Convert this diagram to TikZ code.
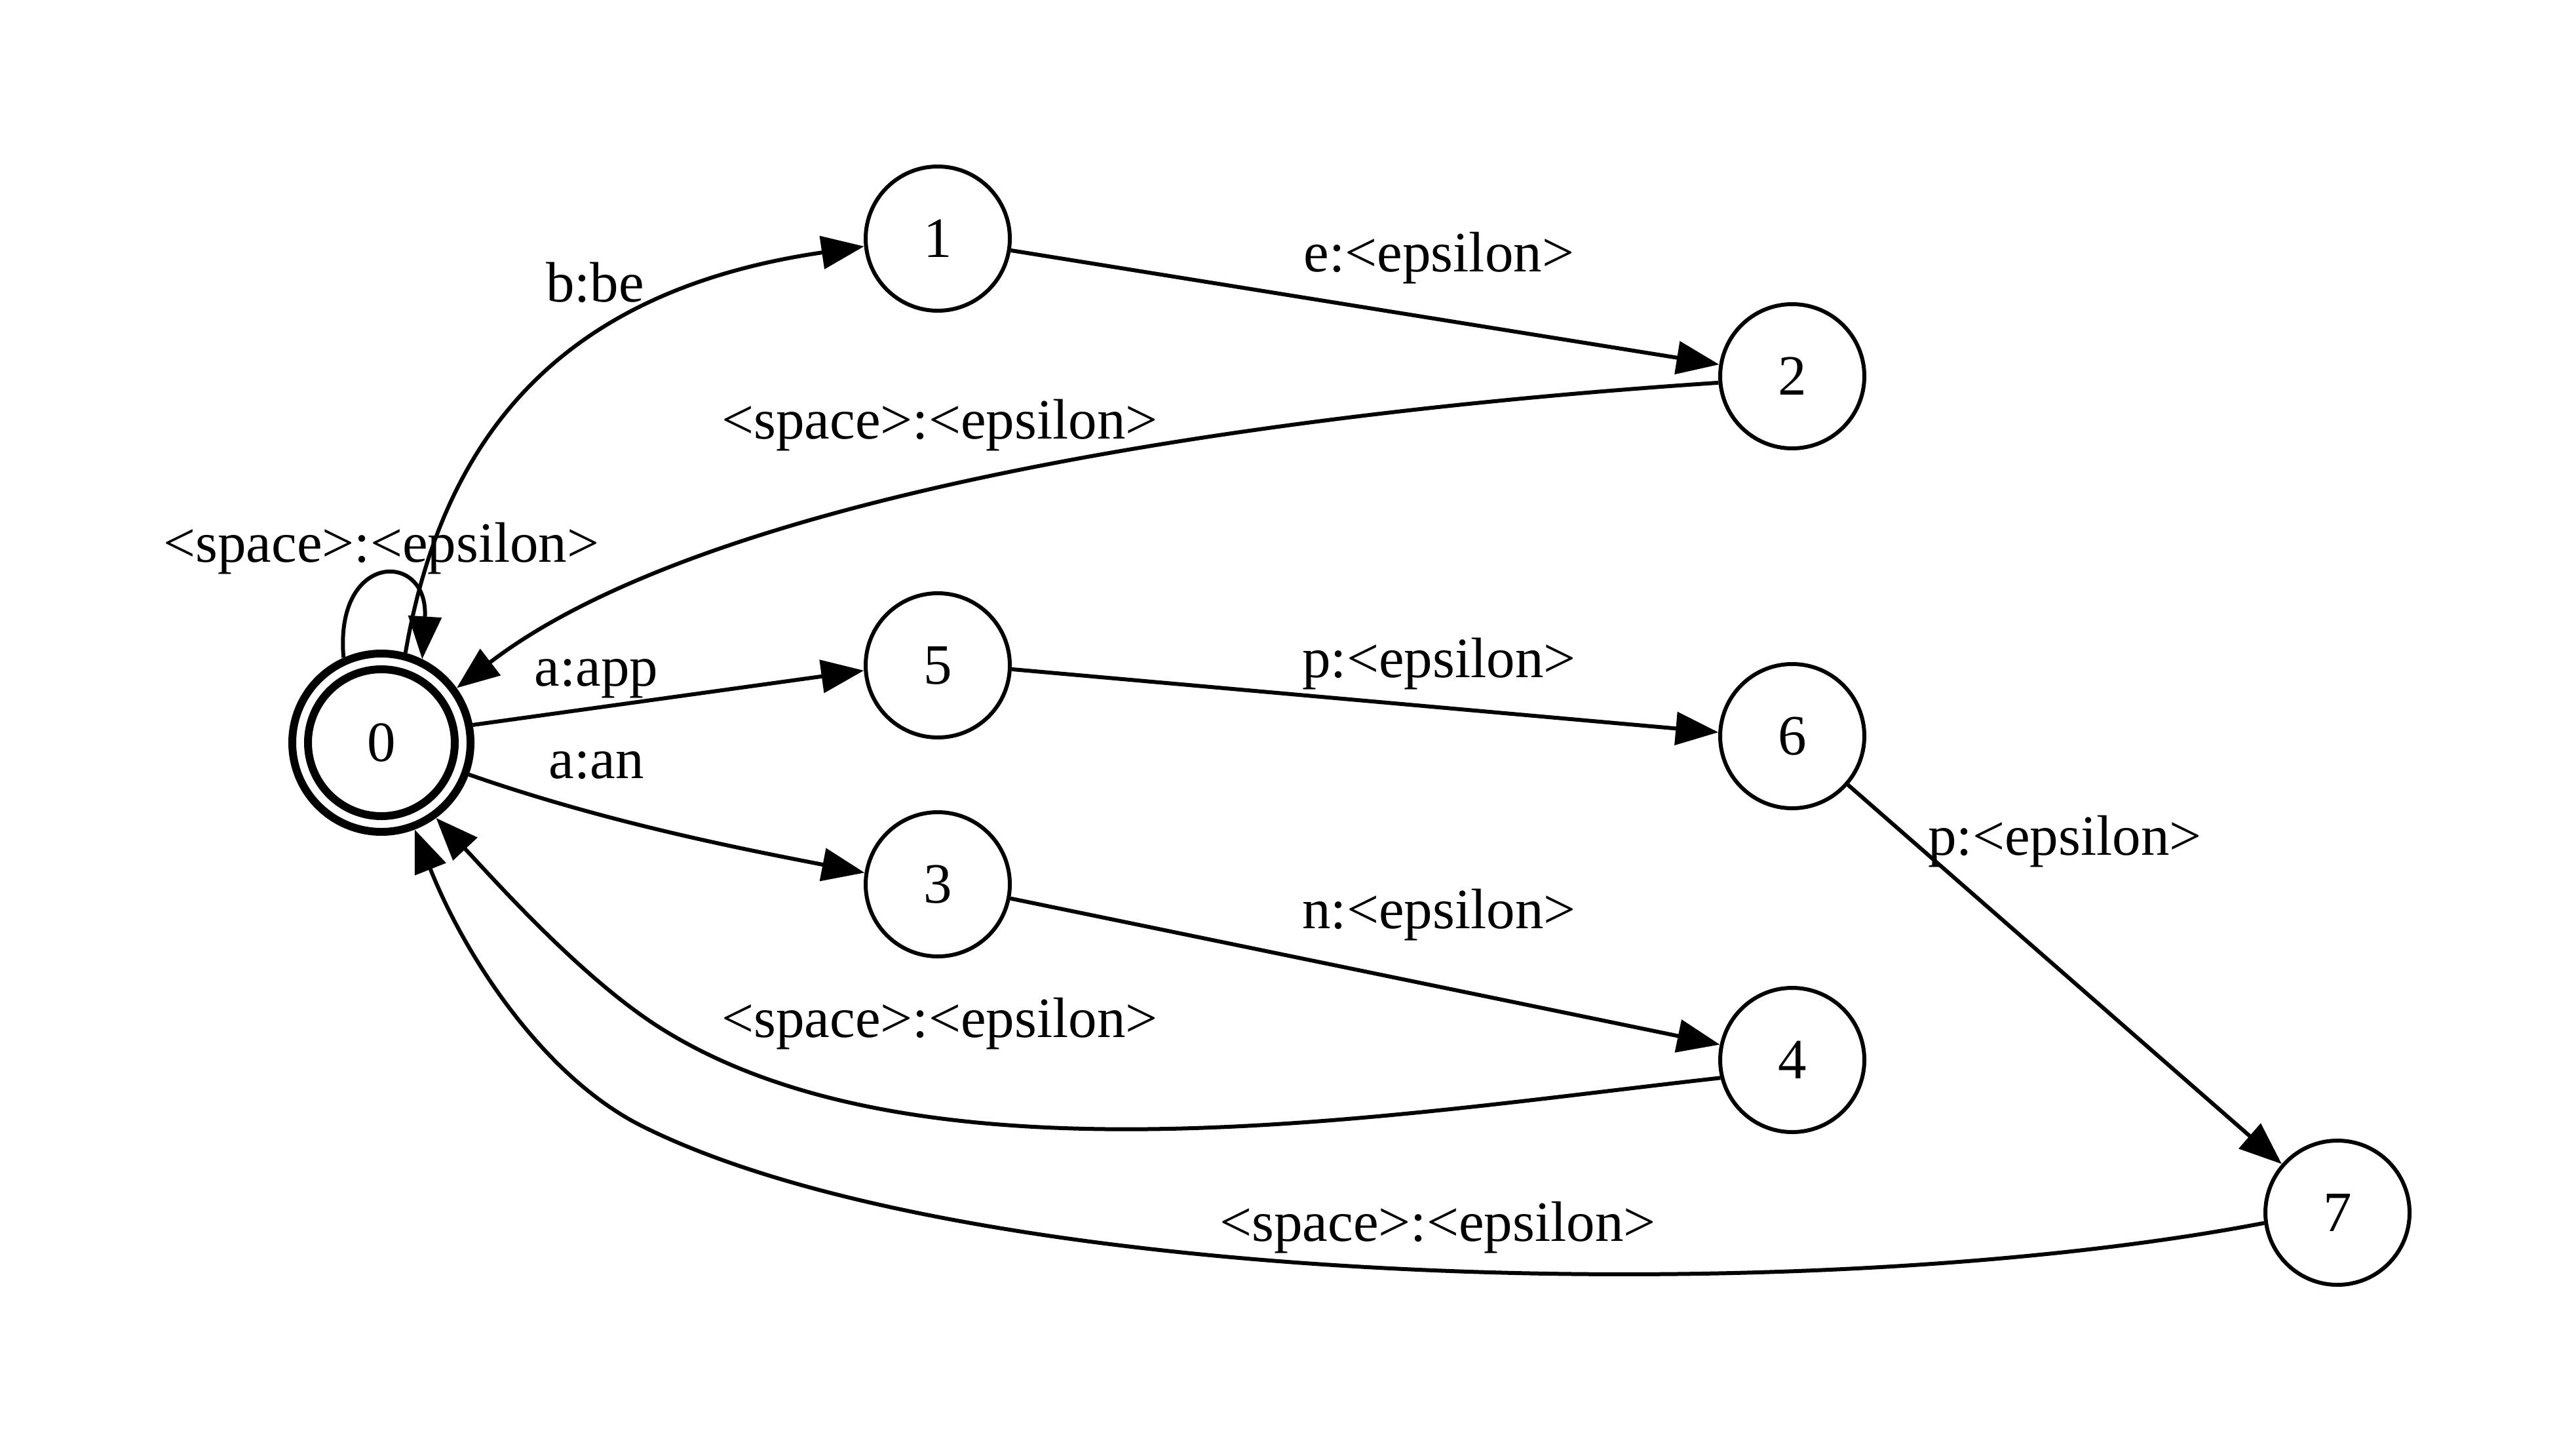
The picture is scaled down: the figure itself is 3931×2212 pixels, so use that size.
\documentclass[tikz,border=0pt]{standalone}
\usepackage{fontspec}
\setmainfont{Liberation Serif}
\usetikzlibrary{arrows.meta}
\newcommand{\lblfont}{\fontsize{17.4}{20}\selectfont}
\tikzset{
  st/.style={circle, draw, line width=1.2pt, minimum size=44pt, inner sep=0pt, font=\lblfont},
  fin/.style={st, line width=2.4pt, minimum size=54.4pt},
  edge/.style={line width=1.2pt, -{Triangle[length=13pt, width=10pt]}},
  lab/.style={inner sep=0pt, font=\lblfont},
}
\begin{document}
\begin{tikzpicture}[x=0.2pt, y=-0.2pt]
\useasboundingbox (0,0) rectangle (3931,2212);
% states
\node[fin] (n0) at (582,1133) {0};
\draw[line width=2.4pt] (n0.center) circle[radius=22.4pt];
\node[st] (n1) at (1431,364) {1};
\node[st] (n2) at (2735,574) {2};
\node[st] (n5) at (1431,1015) {5};
\node[st] (n6) at (2735,1123) {6};
\node[st] (n3) at (1431,1349) {3};
\node[st] (n4) at (2735,1617) {4};
\node[st] (n7) at (3567,1850) {7};
\coordinate (m40) at (1009,1569);
\coordinate (m70) at (980,1718);
% transitions
\draw[edge] (n0.114) .. controls (510,840) and (655,840) .. (n0.64);
\draw[edge] (n0.75) .. controls (680,640) and (880,440) .. (n1.186);
\draw[edge] (n1) -- (n2);
\draw[edge] (n2.185) .. controls (2000,625) and (1100,740) .. (n0.36);
\draw[edge] (n0.11) -- (n5.184);
\draw[edge] (n5.357) -- (n6.177);
\draw[edge] (n0.340) .. controls (920,1253) and (1121,1293) .. (n3.171);
\draw[edge] (n3.349) -- (n4.168);
\draw[edge] (n4.194) .. controls (2125,1700) and (1411,1821) .. (m40)
            .. controls (888,1493) and (755,1343) .. (n0.306);
\draw[edge] (n6) -- (n7);
\draw[edge] (n7.188) .. controls (2755,2000) and (1480,1968) .. (m70)
            .. controls (830,1643) and (710,1460) .. (n0.291);
% labels
\node[lab] (l00) at (582,837) {<space>:<epsilon>};
\node[lab] (l01) at (908,431) {b:be};
\node[lab] (l12) at (2196,394) {e:<epsilon>};
\node[lab] (l20) at (1434,649) {<space>:<epsilon>};
\node[lab] (l05) at (910,1035) {a:app};
\node[lab] (l56) at (2196,1013) {p:<epsilon>};
\node[lab] (l03) at (910,1168) {a:an};
\node[lab] (l34) at (2196,1396) {n:<epsilon>};
\node[lab] (l40) at (1434,1562) {<space>:<epsilon>};
\node[lab] (l67) at (3151,1284) {p:<epsilon>};
\node[lab] (l70) at (2194,1873) {<space>:<epsilon>};
\end{tikzpicture}
\end{document}
